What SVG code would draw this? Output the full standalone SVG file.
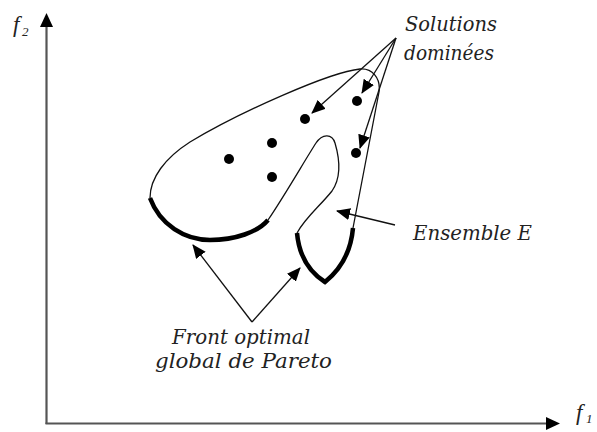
<svg xmlns="http://www.w3.org/2000/svg" width="597" height="432" viewBox="0 0 597 432">
<style>
.lbl{font-family:"DejaVu Serif","Liberation Serif",serif;font-style:italic;font-size:20px;fill:#222}
.ax{font-family:"Liberation Serif","Times New Roman",serif;font-style:italic;fill:#222}
.thin{fill:none;stroke:#111;stroke-width:1.3}
.thick{fill:none;stroke:#000;stroke-width:4.5;stroke-linecap:butt}
.axis{fill:none;stroke:#555;stroke-width:2.2}
.arr{fill:none;stroke:#111;stroke-width:1.3;marker-end:url(#ah)}
.dot{fill:#000}
</style>
<defs>
<marker id="ah" markerUnits="userSpaceOnUse" markerWidth="14" markerHeight="12" viewBox="0 0 14 12" refX="13" refY="6" orient="auto">
<path d="M0,0 L14,6 L0,12 Z" fill="#000"/>
</marker>
<marker id="axh" markerUnits="userSpaceOnUse" markerWidth="14" markerHeight="13" viewBox="0 0 14 13" refX="1" refY="6.5" orient="auto">
<path d="M0,0 L14,6.5 L0,13 Z" fill="#000"/>
</marker>
</defs>
<g id="axes">
<path class="axis" d="M46.5,424 L46.5,26" marker-end="url(#axh)"/>
<path class="axis" d="M45.5,423.5 L547,423.5" marker-end="url(#axh)"/>
</g>
<g id="label-f2"><text class="ax" x="13" y="32" font-size="23">f</text><text class="ax" x="22" y="36" font-size="13">2</text></g>
<g id="label-f1"><text class="ax" x="576" y="420" font-size="23">f</text><text class="ax" x="586" y="423" font-size="13">1</text></g>
<g id="ensemble-E">
<path class="thin" d="M353,228 L379,92 C381,78 372,68 360,69 C330,72 240,112 190,142 C165,158 150,178 150,198"/>
<path class="thin" d="M268,220 C285,195 305,160 316,143 C322,134 332,133 335,143 C340,160 341,178 332,191 C320,206 305,218 297,233"/>
</g>
<g id="front-pareto">
<path class="thick" d="M150,198 C160,225 185,240 210,240 C235,240 258,232 268,220"/>
<path class="thick" d="M297,233 Q300,266 325,282 Q350,262 353,228"/>
</g>
<g id="solutions">
<circle class="dot" cx="229" cy="159" r="5"/>
<circle class="dot" cx="272" cy="143" r="5"/>
<circle class="dot" cx="272" cy="177" r="5"/>
<circle class="dot" cx="305" cy="119" r="5"/>
<circle class="dot" cx="357" cy="101" r="5"/>
<circle class="dot" cx="356" cy="153" r="5"/>
</g>
<g id="connectors">
<path class="arr" d="M396,38 L312,113"/>
<path class="arr" d="M396,38 L362,93"/>
<path class="arr" d="M396,38 L360,148"/>
<path class="arr" d="M395,225 L337,211"/>
<path class="arr" d="M252,322 L193,245"/>
<path class="arr" d="M252,322 L300,268"/>
</g>
<g id="label-solutions">
<text class="lbl" x="405" y="31" textLength="92" lengthAdjust="spacingAndGlyphs">Solutions</text>
<text class="lbl" x="404" y="60" textLength="90" lengthAdjust="spacingAndGlyphs">dominées</text>
</g>
<g id="label-ensemble"><text class="lbl" x="413" y="240" textLength="119" lengthAdjust="spacingAndGlyphs">Ensemble E</text></g>
<g id="label-front">
<text class="lbl" x="172" y="344" textLength="138" lengthAdjust="spacingAndGlyphs">Front optimal</text>
<text class="lbl" x="155" y="368" textLength="177" lengthAdjust="spacingAndGlyphs">global de Pareto</text>
</g>
</svg>
